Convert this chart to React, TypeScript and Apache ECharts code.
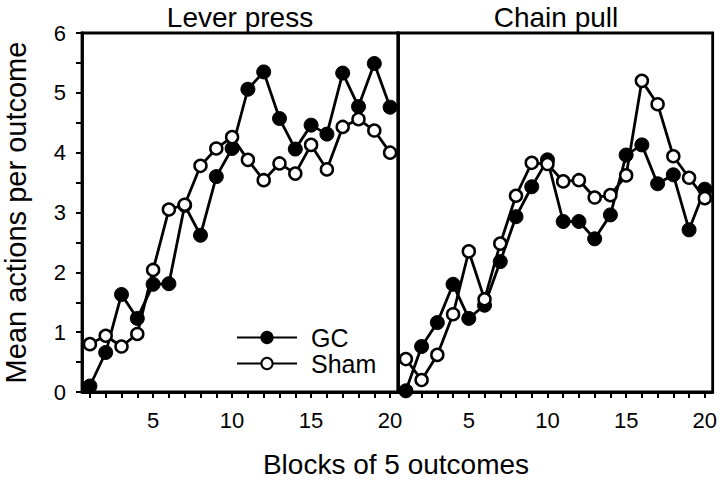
import React, { useEffect, useRef } from 'react';
import * as echarts from 'echarts';

const blocks = ['1','2','3','4','5','6','7','8','9','10','11','12','13','14','15','16','17','18','19','20'];
const panelTitles = ['Lever press', 'Chain pull'];
const seriesNames = ['GC', 'Sham'];
const leverGC = [0.1, 0.66, 1.63, 1.23, 1.8, 1.81, 3.12, 2.62, 3.6, 4.07, 5.06, 5.35, 4.57, 4.06, 4.46, 4.31, 5.33, 4.77, 5.49, 4.76];
const leverSham = [0.8, 0.94, 0.76, 0.97, 2.04, 3.05, 3.13, 3.78, 4.07, 4.26, 3.88, 3.54, 3.82, 3.65, 4.13, 3.72, 4.43, 4.56, 4.37, 4.0];
const chainGC = [0.02, 0.76, 1.16, 1.8, 1.23, 1.45, 2.18, 2.93, 3.43, 3.88, 2.85, 2.85, 2.56, 2.96, 3.96, 4.13, 3.48, 3.63, 2.71, 3.39];
const chainSham = [0.55, 0.2, 0.62, 1.3, 2.35, 1.55, 2.48, 3.28, 3.83, 3.81, 3.52, 3.54, 3.25, 3.29, 3.62, 5.2, 4.81, 3.94, 3.58, 3.24];
const yMin = 0;
const yMax = 6;
const yStep = 0.5;
const xTitle = 'Blocks of 5 outcomes';
const yTitle = 'Mean actions per outcome';

const FONT = 'Liberation Sans, Arial, Helvetica, sans-serif';
const LW = 2.8;

export default function App() {
  const ref = useRef<HTMLDivElement>(null);
  useEffect(() => {
    document.body.style.margin = '0';
    const chart = echarts.init(ref.current!, null, { renderer: 'svg' });
    const xAxisBase = (gridIndex: number) => ({
      type: 'category',
      gridIndex,
      data: blocks,
      boundaryGap: true,
      axisLine: { show: true, lineStyle: { color: '#000', width: LW } },
      axisTick: { show: true, interval: 0, alignWithLabel: true, length: 6, lineStyle: { color: '#000', width: 2 } },
      axisLabel: {
        interval: (i: number) => (i + 1) % 5 === 0,
        color: '#000', fontSize: 22, fontFamily: FONT, margin: 17,
      },
      splitLine: { show: false },
    });
    const yAxisBase = (gridIndex: number, showLabels: boolean) => ({
      type: 'value',
      gridIndex,
      min: yMin,
      max: yMax,
      interval: yStep,
      name: showLabels ? yTitle : '',
      nameLocation: 'middle',
      nameGap: 52,
      nameRotate: 90,
      nameTextStyle: { color: '#000', fontSize: 29, fontFamily: FONT },
      axisLine: { show: true, lineStyle: { color: '#000', width: LW } },
      axisTick: { show: showLabels, length: 6, lineStyle: { color: '#000', width: 2 } },
      axisLabel: {
        show: showLabels,
        color: '#000', fontSize: 22, fontFamily: FONT, margin: 16,
        formatter: (v: number) => (v % 1 === 0 ? String(v) : ''),
      },
      splitLine: { show: false },
    });
    const mk = (name: string, data: number[], idx: number, open: boolean) => ({
      type: 'line',
      name,
      xAxisIndex: idx,
      yAxisIndex: idx,
      data,
      symbol: 'circle',
      symbolSize: open ? 12 : 14,
      showSymbol: true,
      showAllSymbol: true,
      lineStyle: { color: '#000', width: LW },
      itemStyle: open
        ? { color: '#fff', borderColor: '#000', borderWidth: 2.5 }
        : { color: '#000', borderColor: '#000', borderWidth: 1 },
      z: open ? 3 : 2,
    });
    const legendBase = (name: string, top: number) => ({
      data: [name],
      orient: 'vertical',
      left: 236,
      top,
      padding: 0,
      itemWidth: 60,
      itemHeight: 14,
      textStyle: { color: '#000', fontSize: 25, lineHeight: 25, fontFamily: FONT, padding: [0, 0, 0, 9] },
    });
    chart.setOption({
      animation: false,
      backgroundColor: '#fff',
      textStyle: { fontFamily: FONT },
      grid: [
        { left: 82, top: 33, width: 316, height: 359, show: true, borderColor: '#000', borderWidth: LW, backgroundColor: 'transparent' },
        { left: 398, top: 33, width: 316, height: 359, show: true, borderColor: '#000', borderWidth: LW, backgroundColor: 'transparent' },
      ],
      xAxis: [xAxisBase(0), xAxisBase(1)],
      yAxis: [yAxisBase(0, true), yAxisBase(1, false)],
      legend: [legendBase(seriesNames[0], 325), legendBase(seriesNames[1], 351)],
      graphic: [
        { type: 'text', x: 240, y: 3, style: { text: panelTitles[0], fill: '#000', font: `28px ${FONT}`, textAlign: 'center' } },
        { type: 'text', x: 556, y: 3, style: { text: panelTitles[1], fill: '#000', font: `28px ${FONT}`, textAlign: 'center' } },
        { type: 'text', x: 396, y: 450, style: { text: xTitle, fill: '#000', font: `28px ${FONT}`, textAlign: 'center' } },
      ],
      series: [
        mk(seriesNames[0], leverGC, 0, false),
        mk(seriesNames[1], leverSham, 0, true),
        mk(seriesNames[0], chainGC, 1, false),
        mk(seriesNames[1], chainSham, 1, true),
      ],
    });
    return () => chart.dispose();
  }, []);
  return <div ref={ref} style={{ width: 720, height: 483 }} />;
}
